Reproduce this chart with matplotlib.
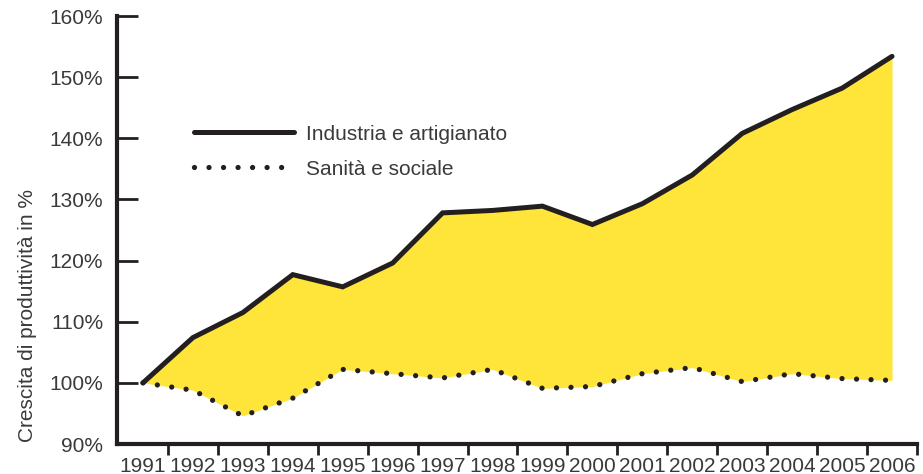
import numpy as np
import matplotlib.pyplot as plt

# productivity index, 1991 = 100
years = list(range(1991, 2007))
industria = [100.0, 107.4, 111.5, 117.7, 115.7, 119.6, 127.8, 128.2,
             128.9, 125.9, 129.3, 134.0, 140.8, 144.7, 148.2, 153.4]
sanita = [100.0, 98.8, 94.6, 97.5, 102.2, 101.5, 100.8, 102.2,
          99.1, 99.4, 101.5, 102.5, 100.2, 101.5, 100.7, 100.4]
yticks = [90, 100, 110, 120, 130, 140, 150, 160]

plt.rcParams['font.family'] = ['Liberation Sans', 'DejaVu Sans']
txt = '#3a3a3a'
ink = '#231f20'
fs = 15

fig = plt.figure(figsize=(9.23, 4.74), dpi=100)
ax = fig.add_axes([117 / 923, 1 - 444 / 474, 800 / 923, 428 / 474])

x = np.array(years)
ax.fill_between(x, sanita, industria, color='#ffe43a', lw=0)
ax.plot(x, industria, color=ink, lw=3.6, solid_capstyle='round',
        solid_joinstyle='miter', label='Industria e artigianato')
ax.plot(x, sanita, color=ink, lw=3.8, linestyle=(0, (0.001, 2.75)),
        dash_capstyle='round', label='Sanità e sociale')

ax.set_xlim(1990.48, 2006.5)
ax.set_ylim(90, 160)

# spines
for s in ['top', 'right']:
    ax.spines[s].set_visible(False)
for s in ['left', 'bottom']:
    ax.spines[s].set_linewidth(3)
    ax.spines[s].set_color(ink)
    ax.spines[s].set_capstyle('projecting')

# y axis: inward ticks
ax.set_yticks(yticks)
ax.set_yticklabels(['%d%%' % v for v in yticks])
ax.tick_params(axis='y', direction='in', length=15, width=2, color=ink,
               pad=10, labelsize=fs, labelcolor=txt)

# x axis: marks between the years, labels on the years
ax.set_xticks(np.arange(1991.5, 2007, 1.0))
ax.set_xticklabels([])
ax.set_xticks(years, minor=True)
ax.set_xticklabels([str(y) for y in years], minor=True)
ax.tick_params(axis='x', which='major', direction='out', length=8,
               width=2, color=ink)
ax.tick_params(axis='x', which='minor', length=0, pad=9,
               labelsize=fs, labelcolor=txt)

ax.set_ylabel('Crescita di produttività in %', fontsize=fs, color=txt)
ax.yaxis.set_label_coords(-0.10, 0.30)

leg = ax.legend(loc='upper left', bbox_to_anchor=(0.0725, 0.79),
                frameon=False, fontsize=fs, handlelength=4.8,
                handletextpad=0.57, labelspacing=0.77, labelcolor=txt)

fig.savefig('out.png', dpi=100)
